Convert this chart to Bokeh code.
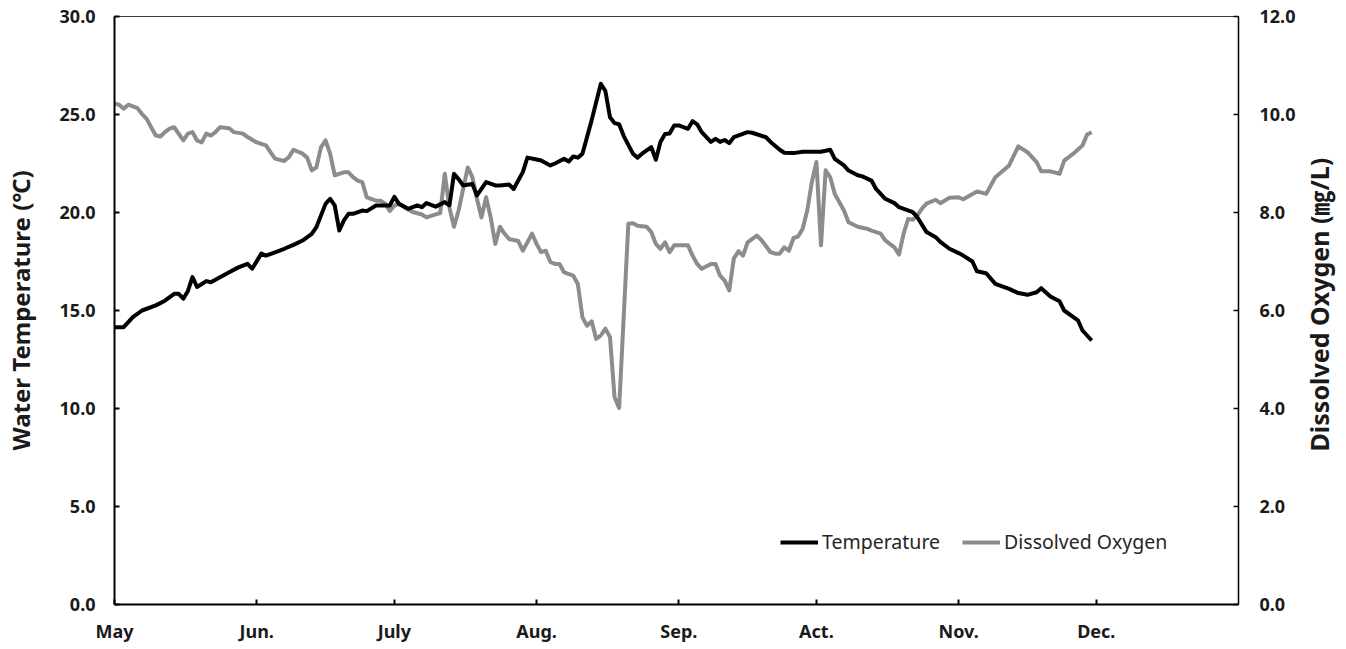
import math
from bokeh.plotting import figure
from bokeh.layouts import row
from bokeh.models import (ColumnDataSource, Range1d, LinearAxis, FixedTicker,
                          NumeralTickFormatter, Label)
from bokeh.embed import file_html
from bokeh.resources import INLINE

# ---------------- data (day 0 = May 1) ----------------
month_ticks = [0, 31, 61, 92, 123, 153, 184, 214]
month_labels = ["May", "Jun.", "July", "Aug.", "Sep.", "Act.", "Nov.", "Dec."]

temp_day = [0, 2, 4, 6, 9, 11, 13, 14, 15, 16, 17, 18, 20, 21, 23, 25, 27, 29, 30, 32,
            33, 35, 37, 39, 41, 43, 44, 46, 47, 48, 49, 50, 51, 52, 54, 55, 57, 59, 60, 61,
            62, 64, 65, 66, 67, 68, 70, 72, 73, 74, 75, 76, 78, 79, 81, 83, 84, 86, 87, 89,
            90, 92, 93, 95, 96, 98, 99, 100, 101, 102, 104, 106, 107, 108, 109, 110, 111, 113, 114, 115,
            117, 118, 119, 120, 121, 122, 123, 125, 126, 127, 128, 130, 131, 132, 133, 134, 135, 138, 139, 142,
            143, 145, 146, 148, 150, 154, 156, 157, 159, 160, 162, 163, 165, 166, 168, 170, 171, 174, 175, 177,
            179, 180, 182, 184, 185, 187, 188, 190, 192, 195, 197, 199, 201, 202, 204, 206, 207, 210, 211, 213]
temp_val = [14.15, 14.15, 14.66, 15.0, 15.26, 15.5, 15.85, 15.85, 15.6, 16.0, 16.7, 16.2, 16.5, 16.44, 16.7, 16.95, 17.2, 17.38, 17.13, 17.9,
            17.8, 17.97, 18.15, 18.35, 18.57, 18.91, 19.25, 20.44, 20.7, 20.36, 19.08, 19.6, 19.93, 19.93, 20.1, 20.07, 20.36, 20.36, 20.36, 20.8,
            20.44, 20.19, 20.27, 20.36, 20.27, 20.48, 20.3, 20.53, 20.36, 21.97, 21.7, 21.38, 21.46, 20.87, 21.55, 21.38, 21.38, 21.43, 21.2, 22.06,
            22.8, 22.7, 22.65, 22.4, 22.5, 22.74, 22.6, 22.86, 22.8, 23.0, 24.7, 26.57, 26.2, 24.86, 24.56, 24.5, 23.9, 23.0, 22.8, 23.0,
            23.33, 22.69, 23.6, 24.0, 24.03, 24.44, 24.44, 24.27, 24.66, 24.5, 24.1, 23.6, 23.76, 23.6, 23.7, 23.54, 23.84, 24.1, 24.07, 23.84,
            23.6, 23.2, 23.05, 23.03, 23.1, 23.1, 23.2, 22.74, 22.4, 22.14, 21.9, 21.84, 21.63, 21.2, 20.7, 20.48, 20.27, 20.02, 19.76, 19.0,
            18.74, 18.5, 18.15, 17.93, 17.8, 17.5, 17.0, 16.9, 16.36, 16.1, 15.89, 15.8, 15.93, 16.14, 15.71, 15.47, 15.0, 14.5, 13.98, 13.47]

do_day = [0, 1, 2, 3, 5, 6, 7, 8, 9, 10, 11, 12, 13, 15, 16, 17, 18, 19, 20, 21,
          22, 23, 25, 26, 28, 29, 31, 33, 34, 35, 37, 38, 39, 41, 42, 43, 44, 45, 46, 47,
          48, 50, 51, 52, 53, 54, 55, 57, 58, 59, 60, 61, 62, 64, 65, 67, 68, 70, 71, 72,
          73, 74, 75, 77, 78, 79, 80, 81, 82, 83, 84, 85, 86, 88, 89, 90, 91, 92, 93, 94,
          95, 96, 97, 98, 100, 101, 102, 103, 104, 105, 106, 107, 108, 109, 110, 112, 113, 114, 116, 117,
          118, 119, 120, 121, 122, 124, 125, 126, 127, 128, 130, 131, 132, 133, 134, 135, 136, 137, 138, 140,
          141, 143, 144, 145, 146, 147, 148, 149, 150, 151, 152, 153, 154, 155, 156, 157, 159, 160, 162, 164,
          165, 166, 167, 168, 170, 171, 172, 173, 174, 175, 176, 177, 179, 180, 182, 184, 185, 188, 190, 192,
          195, 197, 199, 201, 202, 204, 206, 207, 209, 211, 212, 213]
do_val = [10.22, 10.2, 10.12, 10.2, 10.13, 10.01, 9.91, 9.74, 9.57, 9.55, 9.64, 9.71, 9.74, 9.47, 9.61, 9.64, 9.47, 9.43, 9.61, 9.57,
          9.64, 9.74, 9.72, 9.64, 9.61, 9.54, 9.43, 9.37, 9.23, 9.1, 9.05, 9.13, 9.28, 9.2, 9.12, 8.86, 8.92, 9.33, 9.47, 9.2,
          8.76, 8.82, 8.82, 8.72, 8.65, 8.62, 8.31, 8.24, 8.24, 8.18, 8.03, 8.14, 8.18, 8.06, 8.01, 7.96, 7.9, 7.96, 7.99, 8.79,
          8.1, 7.71, 8.04, 8.92, 8.72, 8.28, 7.9, 8.31, 7.9, 7.36, 7.71, 7.57, 7.46, 7.42, 7.22, 7.39, 7.57, 7.36, 7.19, 7.22,
          6.99, 6.95, 6.95, 6.78, 6.71, 6.54, 5.86, 5.69, 5.78, 5.42, 5.49, 5.63, 5.46, 4.23, 4.01, 7.77, 7.78, 7.73, 7.71, 7.6,
          7.36, 7.26, 7.39, 7.19, 7.33, 7.33, 7.33, 7.12, 6.95, 6.85, 6.95, 6.95, 6.71, 6.61, 6.41, 7.06, 7.21, 7.12, 7.39, 7.53,
          7.44, 7.19, 7.16, 7.16, 7.29, 7.22, 7.48, 7.51, 7.67, 8.04, 8.62, 9.03, 7.33, 8.86, 8.72, 8.38, 8.04, 7.8, 7.71, 7.67,
          7.63, 7.6, 7.57, 7.43, 7.29, 7.14, 7.57, 7.87, 7.85, 7.94, 8.08, 8.18, 8.26, 8.19, 8.3, 8.31, 8.27, 8.43, 8.38, 8.72,
          8.96, 9.35, 9.23, 9.03, 8.84, 8.84, 8.79, 9.06, 9.2, 9.37, 9.59, 9.64]

temp_ticks = [0, 5, 10, 15, 20, 25, 30]
do_ticks = [0, 2, 4, 6, 8, 10, 12]

# ---------------- figure ----------------
TICK_FONT = "'Noto Sans'"
TITLE_FONT = "'Noto Sans', 'Noto Sans CJK KR'"

p = figure(width=1300, height=649, output_backend="svg", toolbar_location=None,
           x_range=Range1d(0, 245), y_range=Range1d(0, 30),
           min_border_left=114, min_border_right=62, min_border_top=16, min_border_bottom=45)
p.extra_y_ranges = {"do": Range1d(0, 12)}
p.xgrid.visible = False
p.ygrid.visible = False
p.outline_line_color = "#404040"
p.outline_line_width = 1
p.background_fill_color = "white"
p.border_fill_color = "white"

src_t = ColumnDataSource(dict(x=temp_day, y=temp_val))
src_d = ColumnDataSource(dict(x=do_day, y=do_val))

p.line("x", "y", source=src_d, y_range_name="do", line_color="#8c8c8c", line_width=4,
       line_join="round", legend_label="Dissolved Oxygen")
p.line("x", "y", source=src_t, line_color="black", line_width=4,
       line_join="round", legend_label="Temperature")

# x axis
xa = p.xaxis[0]
xa.ticker = FixedTicker(ticks=month_ticks)
xa.major_label_overrides = {t: l for t, l in zip(month_ticks, month_labels)}
xa.major_tick_in = 5
xa.major_tick_out = 0
xa.minor_tick_line_color = None
xa.axis_line_width = 2
xa.axis_line_color = "black"
xa.major_tick_line_width = 2
xa.major_label_text_font = TICK_FONT
xa.major_label_text_font_style = "bold"
xa.major_label_text_font_size = "18px"
xa.major_label_text_color = "#1a1a1a"
xa.major_label_standoff = 14

# left axis
ya = p.yaxis[0]
ya.ticker = FixedTicker(ticks=temp_ticks)
ya.formatter = NumeralTickFormatter(format="0.0")
ya.major_tick_in = 5
ya.major_tick_out = 0
ya.minor_tick_line_color = None
ya.axis_line_width = 2
ya.axis_line_color = "black"
ya.major_tick_line_width = 2
ya.major_label_text_font = TICK_FONT
ya.major_label_text_font_style = "bold"
ya.major_label_text_font_size = "18px"
ya.major_label_text_color = "#1a1a1a"
ya.major_label_standoff = 19
ya.axis_label = "Water Temperature (℃)"
ya.axis_label_text_font = TITLE_FONT
ya.axis_label_text_font_style = "bold"
ya.axis_label_text_font_size = "24px"
ya.axis_label_text_color = "#1a1a1a"
ya.axis_label_standoff = 20

# right axis
ra = LinearAxis(y_range_name="do", ticker=FixedTicker(ticks=do_ticks),
                formatter=NumeralTickFormatter(format="0.0"))
ra.major_tick_in = 5
ra.major_tick_out = 0
ra.minor_tick_line_color = None
ra.axis_line_width = 1.5
ra.axis_line_color = "black"
ra.major_tick_line_width = 1.5
ra.major_label_text_font = TICK_FONT
ra.major_label_text_font_style = "bold"
ra.major_label_text_font_size = "18px"
ra.major_label_text_color = "#1a1a1a"
ra.major_label_standoff = 21
p.add_layout(ra, "right")

# legend
lg = p.legend[0]
lg.items = list(reversed(lg.items))
lg.orientation = "horizontal"
lg.location = (666, 49)
lg.border_line_color = None
lg.background_fill_alpha = 0
lg.padding = 0
lg.margin = 0
lg.spacing = 22
lg.glyph_width = 38
lg.glyph_height = 20
lg.label_height = 20
lg.label_standoff = 4
lg.label_text_font = TICK_FONT
lg.label_text_font_size = "19.5px"
lg.label_text_color = "#262626"

# narrow strip on the right that carries the right-axis title (reads bottom-to-top)
side = figure(width=46, height=649, output_backend="svg", toolbar_location=None,
              x_range=Range1d(0, 46), y_range=Range1d(0, 649),
              x_axis_location=None, y_axis_location=None, min_border=0)
side.xgrid.visible = False
side.ygrid.visible = False
side.outline_line_color = None
side.border_fill_color = "white"
side.add_layout(Label(x=18, y=331, text="Dissolved Oxygen (㎎/L)", angle=math.pi / 2,
                      text_align="center", text_baseline="middle",
                      text_font=TITLE_FONT, text_font_style="bold",
                      text_font_size="25px", text_color="#1a1a1a"))

layout = row(p, side, spacing=0)
open("out.html", "w").write(file_html(layout, INLINE))
